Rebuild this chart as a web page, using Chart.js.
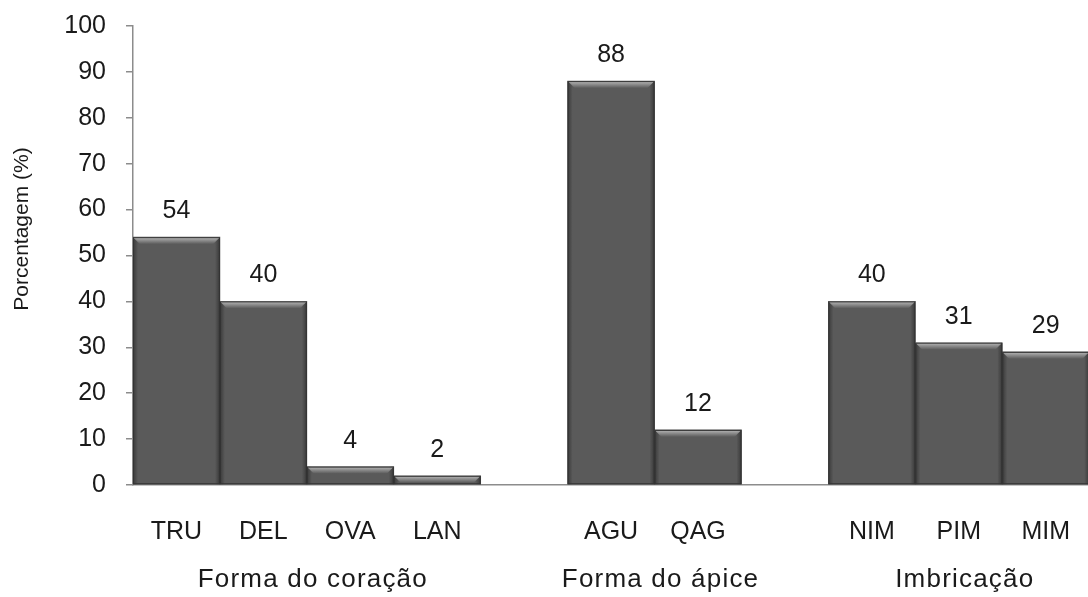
<!DOCTYPE html>
<html>
<head>
<meta charset="utf-8">
<script src="https://cdn.jsdelivr.net/npm/chart.js@4/dist/chart.umd.min.js"></script>
<style>
  html, body { margin: 0; padding: 0; background: #fff; overflow: hidden; }
  #wrap { position: relative; width: 1102px; height: 606px; margin-top: -9px; }
</style>
</head>
<body>
<div id="wrap"><canvas id="chart"></canvas></div>
<script>
// categories (empty strings are the gaps between groups)
const categories = ["TRU", "DEL", "OVA", "LAN", "", "AGU", "QAG", "", "NIM", "PIM", "MIM"];
const values = [54, 40, 4, 2, null, 88, 12, null, 40, 31, 29];
const groups = [
    { label: "Forma do coração", from: 0, to: 3 },
    { label: "Forma do ápice", from: 5, to: 6 },
    { label: "Imbricação", from: 8, to: 10 }
];
const yTitle = "Porcentagem (%)";

const FONT = "'Liberation Sans', Arial, sans-serif";
const TEXT = "#1a1a1a";

// bevel look + value labels + group labels + y title
const decor = {
    id: "decor",
    afterDatasetsDraw(chart) {
        const ctx = chart.ctx;
        const meta = chart.getDatasetMeta(0);
        meta.data.forEach((bar, i) => {
            if (values[i] == null) return;
            const left = bar.x - bar.width / 2;
            const right = bar.x + bar.width / 2;
            const top = bar.y;
            const h = bar.base - bar.y;
            ctx.save();
            // side shading
            const e = Math.min(5, bar.width / 4);
            let g = ctx.createLinearGradient(left, 0, left + e, 0);
            g.addColorStop(0, "rgba(30,30,30,0.55)");
            g.addColorStop(1, "rgba(30,30,30,0)");
            ctx.fillStyle = g;
            ctx.fillRect(left, top, e, h);
            g = ctx.createLinearGradient(right - e, 0, right, 0);
            g.addColorStop(0, "rgba(30,30,30,0)");
            g.addColorStop(1, "rgba(30,30,30,0.55)");
            ctx.fillStyle = g;
            ctx.fillRect(right - e, top, e, h);
            // top highlight
            const t = Math.min(7, h);
            g = ctx.createLinearGradient(0, top, 0, top + t);
            g.addColorStop(0, "rgba(210,210,210,0.8)");
            g.addColorStop(1, "rgba(210,210,210,0)");
            ctx.fillStyle = g;
            ctx.beginPath();
            ctx.moveTo(left, top);
            ctx.lineTo(right, top);
            ctx.lineTo(right - t, top + t);
            ctx.lineTo(left + t, top + t);
            ctx.closePath();
            ctx.fill();
            // dark outline
            ctx.strokeStyle = "#333";
            ctx.lineWidth = 1;
            ctx.strokeRect(left + 0.5, top + 0.5, bar.width - 1, h - 1);
            ctx.restore();

            // value label
            ctx.save();
            ctx.font = "25px " + FONT;
            ctx.fillStyle = TEXT;
            ctx.textAlign = "center";
            ctx.textBaseline = "middle";
            ctx.fillText(String(values[i]), bar.x, top - 26);
            ctx.restore();
        });
    },
    afterDraw(chart) {
        const ctx = chart.ctx;
        const xs = chart.scales.x;
        const area = chart.chartArea;
        ctx.save();
        ctx.font = "26px " + FONT;
        ctx.fillStyle = TEXT;
        ctx.textAlign = "center";
        ctx.textBaseline = "middle";
        ctx.letterSpacing = "1.2px";
        groups.forEach(gp => {
            const cx = (xs.getPixelForValue(gp.from) + xs.getPixelForValue(gp.to)) / 2;
            ctx.fillText(gp.label, cx + 6, area.bottom + 95);
        });
        ctx.letterSpacing = "0px";
        ctx.translate(22, 238);
        ctx.rotate(-Math.PI / 2);
        ctx.font = "21px " + FONT;
        ctx.fillText(yTitle, 0, 0);
        ctx.restore();
    }
};

new Chart(document.getElementById("chart").getContext("2d"), {
    type: "bar",
    data: {
        labels: categories,
        datasets: [{
            data: values,
            backgroundColor: "#5a5a5a",
            borderWidth: 0,
            categoryPercentage: 1.0,
            barPercentage: 1.0
        }]
    },
    options: {
        responsive: true,
        maintainAspectRatio: false,
        animation: false,
        layout: { padding: { top: 10, right: 0, left: 0, bottom: 0 } },
        plugins: {
            legend: { display: false },
            tooltip: { enabled: false }
        },
        scales: {
            x: {
                grid: { display: false, drawTicks: false },
                border: { display: true, color: "#8c8c8c", width: 1.5 },
                ticks: {
                    padding: 32,
                    font: { family: FONT, size: 25 },
                    color: TEXT,
                    maxRotation: 0,
                    autoSkip: false
                },
                afterFit(scale) { scale.height = 112; }
            },
            y: {
                min: 0,
                max: 100,
                grid: { drawOnChartArea: false, tickLength: 7, color: "#8c8c8c", lineWidth: 1.5 },
                border: { display: true, color: "#8c8c8c", width: 1.5 },
                ticks: {
                    stepSize: 10,
                    padding: 20,
                    font: { family: FONT, size: 25 },
                    color: TEXT
                },
                afterFit(scale) { scale.width = 133; }
            }
        }
    },
    plugins: [decor]
});
</script>
</body>
</html>
